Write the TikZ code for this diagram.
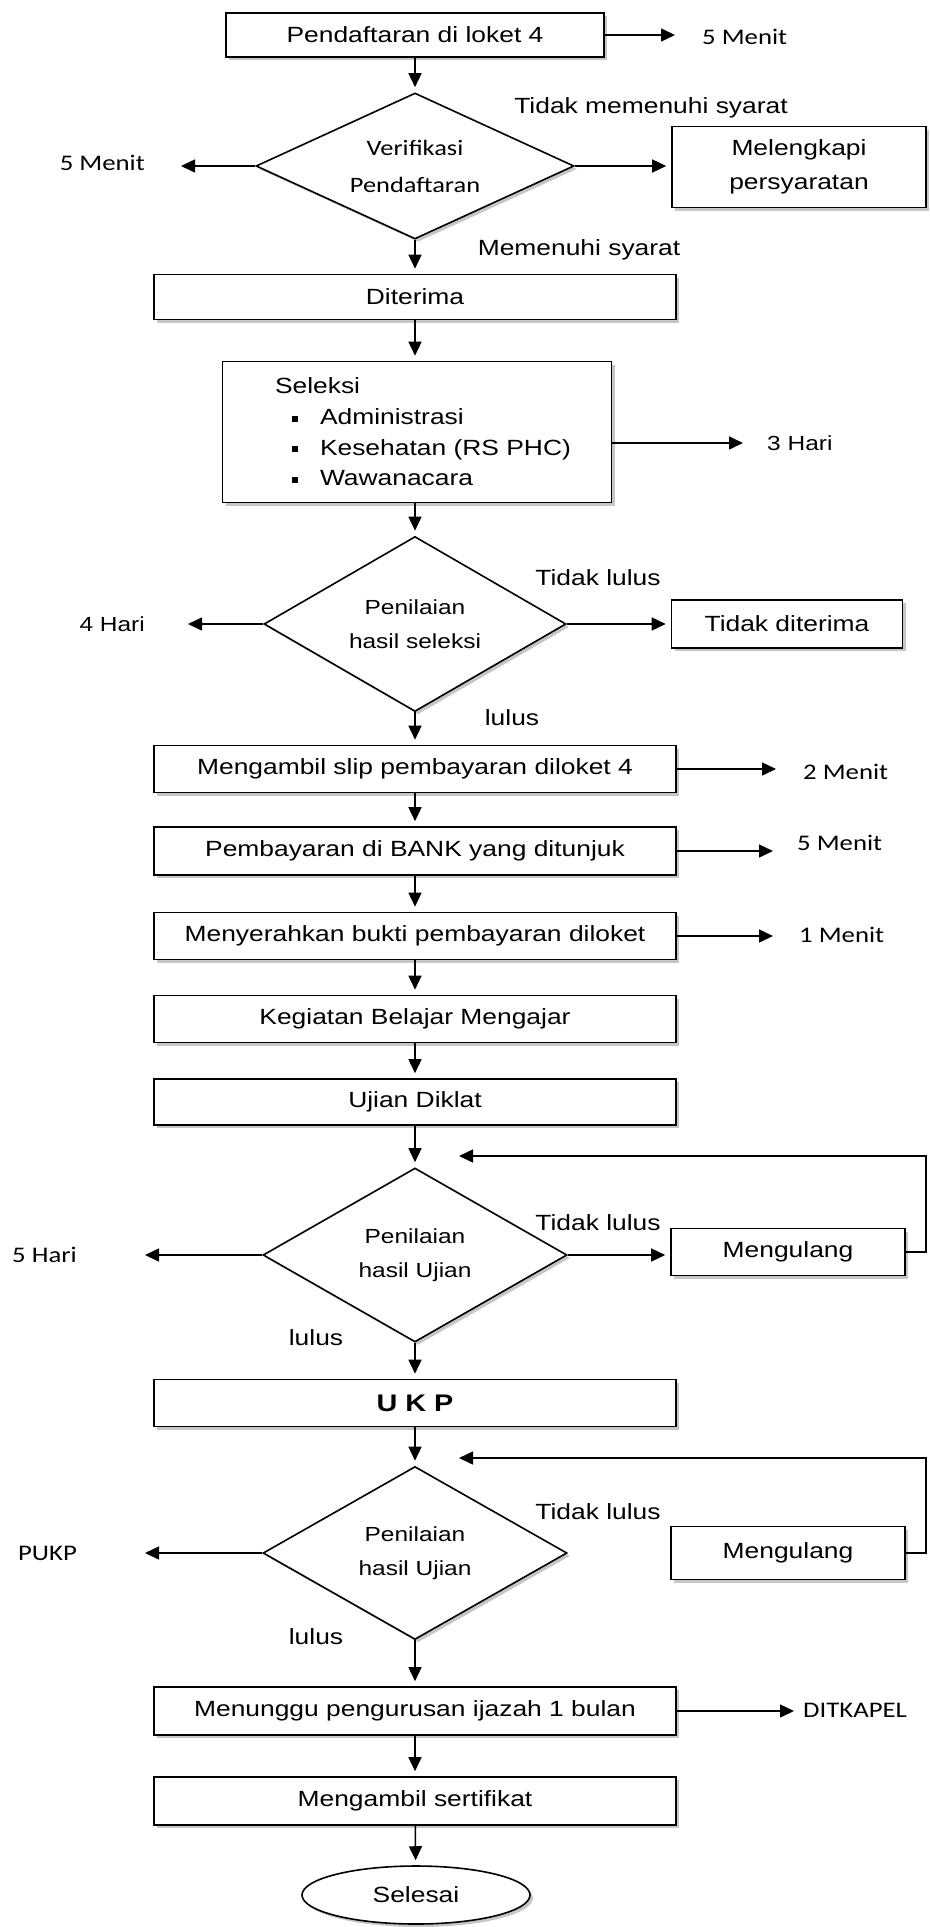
\documentclass[tikz,border=0pt]{standalone}
\usepackage{tikz}
\usepackage{amsmath}
\usepackage{fontspec}
\usetikzlibrary{shapes.geometric,arrows.meta,shadows}
\newfontfamily\arialx[FakeStretch=1.2]{Liberation Sans}
\newfontfamily\calx[FakeStretch=1.2]{Carlito}
\newcommand{\sqbul}{\makebox[45pt][l]{\hspace{17pt}\rule[3pt]{6pt}{6pt}}}

\begin{document}
\begin{tikzpicture}[x=1pt,y=-1pt,
    shade box/.style={drop shadow={shadow xshift=3pt,shadow yshift=-3pt,fill=gray!45,opacity=1}},
    box/.style={draw,line width=1.6pt,fill=white,minimum width=522pt,minimum height=47pt,inner sep=0pt,font=\arialx\fontsize{22}{26}\selectfont,shade box},
    dec/.style={diamond,draw,line width=1.6pt,fill=white,aspect=2,inner sep=0pt,minimum width=304pt,minimum height=174pt,align=center,font=\arialx\fontsize{20.4}{34}\selectfont,shade box},
    lab/.style={font=\arialx\fontsize{22}{26}\selectfont,inner sep=0pt},
    tlab/.style={font=\calx\fontsize{22.3}{26}\selectfont,inner ysep=0pt},
    arr/.style={line width=1.5pt,-{Triangle[length=14pt,width=13pt]}},
    flow/.style={arr,shorten >=5pt}]
            \useasboundingbox (0,0) rectangle (929,1927);
            \node (daftar) at (415,35) [box,minimum width=378pt,minimum height=44pt] {Pendaftaran di loket 4};
            \node (verif) at (415,166) [dec,minimum width=318pt,minimum height=146pt,font=\calx\fontsize{22}{37}\selectfont] {Verifikasi\\Pendaftaran};
            \node (lengkap) at (799,167) [box,minimum width=254pt,minimum height=81pt,align=center,font=\arialx\fontsize{22}{34}\selectfont] {Melengkapi\\persyaratan};
            \node (terima) at (415,297) [box,minimum height=45pt] {Diterima};
            \node (seleksi) at (417,432) [box,minimum width=389pt,minimum height=141pt,text width=284pt,align=left,font=\arialx\fontsize{22}{30.7}\selectfont] {Seleksi\\\mbox{\sqbul Administrasi}\\\mbox{\sqbul Kesehatan (RS PHC)}\\\mbox{\sqbul Wawanacara}};
            \node (nilai1) at (415,624) [dec,minimum width=302pt,minimum height=175pt] {Penilaian\\hasil seleksi};
            \node (tolak) at (787,624) [box,minimum width=231pt,minimum height=48pt] {Tidak diterima};
            \node (slip) at (415,769) [box] {Mengambil slip pembayaran diloket 4};
            \node (bayar) at (415,851) [box,minimum height=48pt] {Pembayaran di BANK yang ditunjuk};
            \node (serah) at (415,936) [box] {Menyerahkan bukti pembayaran diloket};
            \node (kbm) at (415,1019) [box] {Kegiatan Belajar Mengajar};
            \node (ujian) at (415,1102) [box,minimum height=46pt] {Ujian Diklat};
            \node (nilai2) at (415,1255) [dec] {Penilaian\\hasil Ujian};
            \node (ulang1) at (788,1252) [box,minimum width=234pt] {Mengulang};
            \node (ukp) at (415,1403) [box,font=\arialx\bfseries\fontsize{24}{28}\selectfont] {U K P};
            \node (nilai3) at (415,1553) [dec,minimum height=173pt] {Penilaian\\hasil Ujian};
            \node (ulang2) at (788,1553) [box,minimum width=234pt,minimum height=53pt] {Mengulang};
            \node (tunggu) at (415,1711) [box,minimum height=48pt] {Menunggu pengurusan ijazah 1 bulan};
            \node (sertif) at (415,1801) [box,minimum height=48pt] {Mengambil sertifikat};
            \node (selesai) at (416,1895) [ellipse,draw,line width=1.6pt,fill=white,minimum width=228pt,minimum height=58pt,inner sep=0pt,font=\arialx\fontsize{22}{26}\selectfont,shade box] {Selesai};
            \node (m1) at (675,37) [tlab,anchor=west,inner xsep=27pt] {5 Menit};
            \node (m2) at (181,163) [tlab,anchor=east,inner xsep=36pt] {5 Menit};
            \node (h3) at (743,443) [tlab,anchor=west,inner xsep=24pt,font=\arialx\fontsize{20.4}{24}\selectfont] {3 Hari};
            \node (h4) at (188,624) [tlab,anchor=east,inner xsep=43pt,font=\arialx\fontsize{20.4}{24}\selectfont] {4 Hari};
            \node (m3) at (776,772) [tlab,anchor=west,inner xsep=27pt] {2 Menit};
            \node (m4) at (773,843) [tlab,anchor=west,inner xsep=24pt] {5 Menit};
            \node (m5) at (773,935) [tlab,anchor=west,inner xsep=26pt] {1 Menit};
            \node (h5) at (145,1255) [tlab,anchor=east,inner xsep=68pt] {5 Hari};
            \node (pukp) at (145,1553) [tlab,anchor=east,inner xsep=68pt] {PUKP};
            \node (ditk) at (794,1710) [tlab,anchor=west,inner xsep=9pt] {DITKAPEL};
            \node (tms) at (651,108) [lab] {Tidak memenuhi syarat};
            \node (ms) at (579,250) [lab] {Memenuhi syarat};
            \node (tl1) at (598,578) [lab] {Tidak lulus};
            \node (l1) at (512,718) [lab] {lulus};
            \node (tl2) at (598,1223) [lab] {Tidak lulus};
            \node (l2) at (316,1338) [lab] {lulus};
            \node (tl3) at (598,1512) [lab] {Tidak lulus};
            \node (l3) at (316,1637) [lab] {lulus};
            \coordinate (back1) at (459,1156);
            \coordinate (back2) at (459,1458);
            \draw[flow] (daftar) -- (verif);
            \draw[flow] (verif) -- (terima);
            \draw[flow] (terima.south) -- (terima.south |- seleksi.north);
            \draw[flow] (nilai1.north |- seleksi.south) -- (nilai1);
            \draw[flow] (nilai1) -- (slip);
            \draw[flow] (slip) -- (bayar);
            \draw[flow] (bayar) -- (serah);
            \draw[flow] (serah) -- (kbm);
            \draw[flow] (kbm) -- (ujian);
            \draw[flow] (ujian) -- (nilai2);
            \draw[flow] (nilai2) -- (ukp);
            \draw[flow] (ukp) -- (nilai3);
            \draw[flow] (nilai3) -- (tunggu);
            \draw[flow] (tunggu) -- (sertif);
            \draw[flow] (sertif) -- (selesai);
            \draw[flow] (verif.east) -- (lengkap.west |- verif.east);
            \draw[flow] (nilai1) -- (tolak);
            \draw[flow] (nilai2.east) -- (ulang1.west |- nilai2.east);
            \draw[arr] (daftar.east) -- (m1.west |- daftar.east);
            \draw[arr] (verif.west) -- (m2.east |- verif.west);
            \draw[arr] (seleksi.east |- h3.west) -- (h3.west);
            \draw[arr] (nilai1.west) -- (h4.east);
            \draw[arr] (slip.east) -- (m3.west |- slip.east);
            \draw[arr] (bayar.east) -- (m4.west |- bayar.east);
            \draw[arr] (serah.east) -- (m5.west |- serah.east);
            \draw[arr] (nilai2.west) -- (h5.east);
            \draw[arr] (nilai3.west) -- (pukp.east);
            \draw[arr] (tunggu.east) -- (ditk.west |- tunggu.east);
            \draw[arr] (ulang1.east) -- ++(20,0) |- (back1);
            \draw[arr] (ulang2.east) -- ++(20,0) |- (back2);
        \end{tikzpicture}
\end{document}
